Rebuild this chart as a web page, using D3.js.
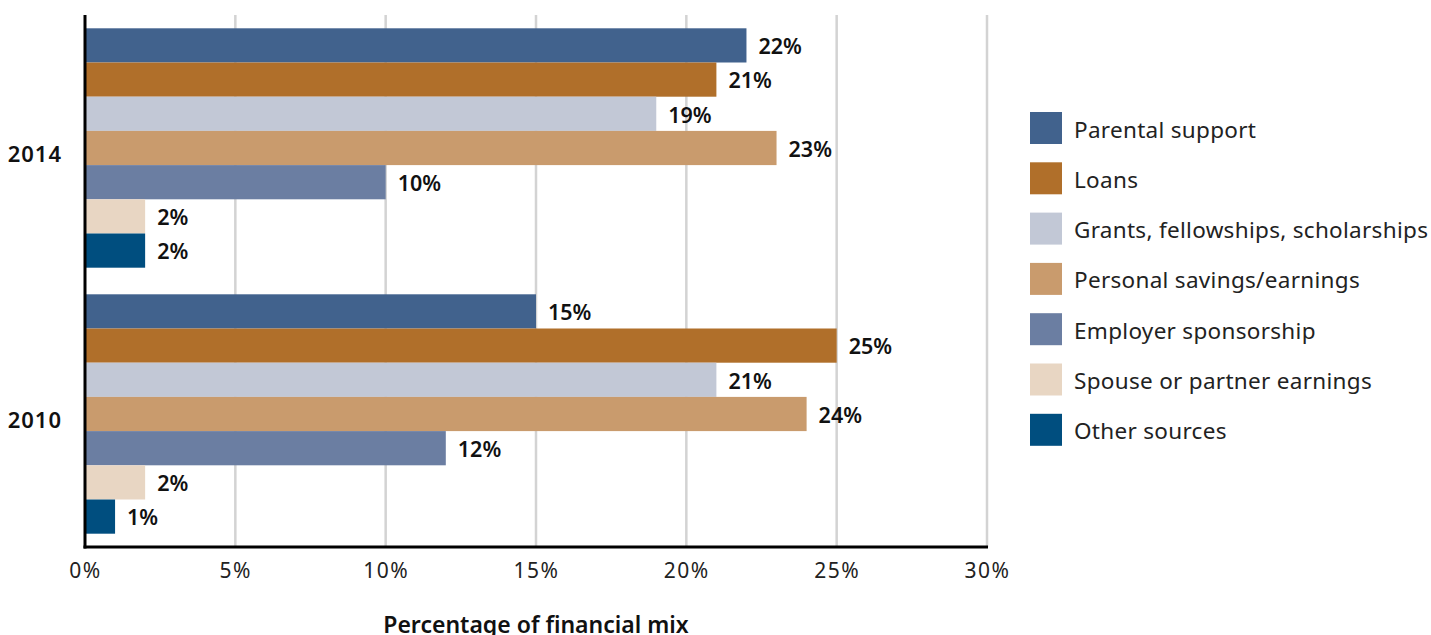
<!DOCTYPE html>
<html>
<head>
<meta charset="utf-8">
<script src="https://cdn.jsdelivr.net/npm/d3@7"></script>
<style>
  body { margin: 0; background: #fff; }
  text { font-family: "Noto Sans", sans-serif; }
</style>
</head>
<body>
<svg class="bar-chart"></svg>
<script>
YEARS = ["2014", "2010"];
SOURCES = [
    "Parental support",
    "Loans",
    "Grants, fellowships, scholarships",
    "Personal savings/earnings",
    "Employer sponsorship",
    "Spouse or partner earnings",
    "Other sources"
];
VALUES_2014 = [22, 21, 19, 23, 10, 2, 2];
VALUES_2010 = [15, 25, 21, 24, 12, 2, 1];
X_TICKS = [0, 5, 10, 15, 20, 25, 30];
COLORS = ["#41628d", "#b06f2a", "#c2c8d6", "#c99b6d", "#6b7ea2", "#e8d6c3", "#004e7f"];

WIDTH = 1431;
HEIGHT = 635;
MARGIN = {top: 15, left: 85, right: 444, bottom: 88};
PLOT_W = WIDTH - MARGIN.left - MARGIN.right;
PLOT_H = HEIGHT - MARGIN.top - MARGIN.bottom;

var svg = d3.select(".bar-chart")
    .attr("width", WIDTH)
    .attr("height", HEIGHT);

var g = svg.append("g")
    .attr("transform", "translate(" + MARGIN.left + "," + MARGIN.top + ")");

var x = d3.scaleLinear().domain([0, 30]).range([0, PLOT_W]);

var y0 = d3.scaleBand()
    .domain(YEARS)
    .range([0, PLOT_H])
    .paddingInner(0.1)
    .paddingOuter(0.05);

var y1 = d3.scaleBand()
    .domain(SOURCES)
    .range([0, y0.bandwidth()]);

var color = d3.scaleOrdinal().domain(SOURCES).range(COLORS);

var rows = [
    {year: "2014", values: VALUES_2014},
    {year: "2010", values: VALUES_2010}
];

// gridlines
g.selectAll(".grid")
    .data(X_TICKS.slice(1))
    .enter().append("line")
    .attr("x1", function(d) { return x(d); })
    .attr("x2", function(d) { return x(d); })
    .attr("y1", 0)
    .attr("y2", PLOT_H)
    .attr("stroke", "#d3d3d3")
    .attr("stroke-width", 2.5);

// bars
var groups = g.selectAll(".group")
    .data(rows)
    .enter().append("g")
    .attr("transform", function(d) { return "translate(0," + y0(d.year) + ")"; });

groups.selectAll("rect")
    .data(function(d) { return d.values.map(function(v, i) { return {source: SOURCES[i], value: v}; }); })
    .enter().append("rect")
    .attr("x", 0)
    .attr("y", function(d) { return y1(d.source); })
    .attr("width", function(d) { return x(d.value); })
    .attr("height", y1.bandwidth())
    .attr("fill", function(d) { return color(d.source); });

groups.selectAll(".val")
    .data(function(d) { return d.values.map(function(v, i) { return {source: SOURCES[i], value: v}; }); })
    .enter().append("text")
    .attr("x", function(d) { return x(d.value) + 12; })
    .attr("y", function(d) { return y1(d.source) + y1.bandwidth() / 2 + 1; })
    .attr("dy", "0.36em")
    .attr("font-size", 21.5)
    .attr("font-weight", 600)
    .attr("fill", "#111")
    .text(function(d) { return d.value + "%"; });

// year labels
g.selectAll(".year")
    .data(YEARS)
    .enter().append("text")
    .attr("x", -23)
    .attr("y", function(d) { return y0(d) + y0.bandwidth() / 2 + 6; })
    .attr("dy", "0.36em")
    .attr("text-anchor", "end")
    .attr("font-size", 22)
    .attr("font-weight", 600)
    .attr("letter-spacing", 1)
    .attr("fill", "#111")
    .text(function(d) { return d; });

// x axis
var xAxis = g.append("g")
    .attr("transform", "translate(0," + PLOT_H + ")")
    .call(d3.axisBottom(x)
        .tickValues(X_TICKS)
        .tickSize(0)
        .tickPadding(16)
        .tickFormat(function(d) { return d + "%"; }));
xAxis.select(".domain").remove();
xAxis.selectAll("text")
    .attr("font-size", 21)
    .attr("letter-spacing", 1.5)
    .attr("font-family", "'Noto Sans', sans-serif")
    .attr("fill", "#222");

// axis lines
g.append("line")
    .attr("x1", 0).attr("x2", 0)
    .attr("y1", 0).attr("y2", PLOT_H + 1.5)
    .attr("stroke", "#000")
    .attr("stroke-width", 3);
g.append("line")
    .attr("x1", -1.5).attr("x2", PLOT_W + 1)
    .attr("y1", PLOT_H).attr("y2", PLOT_H)
    .attr("stroke", "#000")
    .attr("stroke-width", 3);

// axis title
g.append("text")
    .attr("x", x(15))
    .attr("y", PLOT_H + 86)
    .attr("text-anchor", "middle")
    .attr("font-size", 23)
    .attr("font-weight", 600)
    .attr("fill", "#111")
    .text("Percentage of financial mix");

// legend
var legend = svg.append("g")
    .attr("transform", "translate(1030,112)");

var items = legend.selectAll(".item")
    .data(SOURCES)
    .enter().append("g")
    .attr("transform", function(d, i) { return "translate(0," + (i * 50.3) + ")"; });

items.append("rect")
    .attr("width", 32)
    .attr("height", 32)
    .attr("fill", function(d) { return color(d); });

items.append("text")
    .attr("x", 44)
    .attr("y", 17.5)
    .attr("dy", "0.36em")
    .attr("font-size", 22.5)
    .attr("letter-spacing", 0.3)
    .attr("fill", "#222")
    .text(function(d) { return d; });
</script>
</body>
</html>
